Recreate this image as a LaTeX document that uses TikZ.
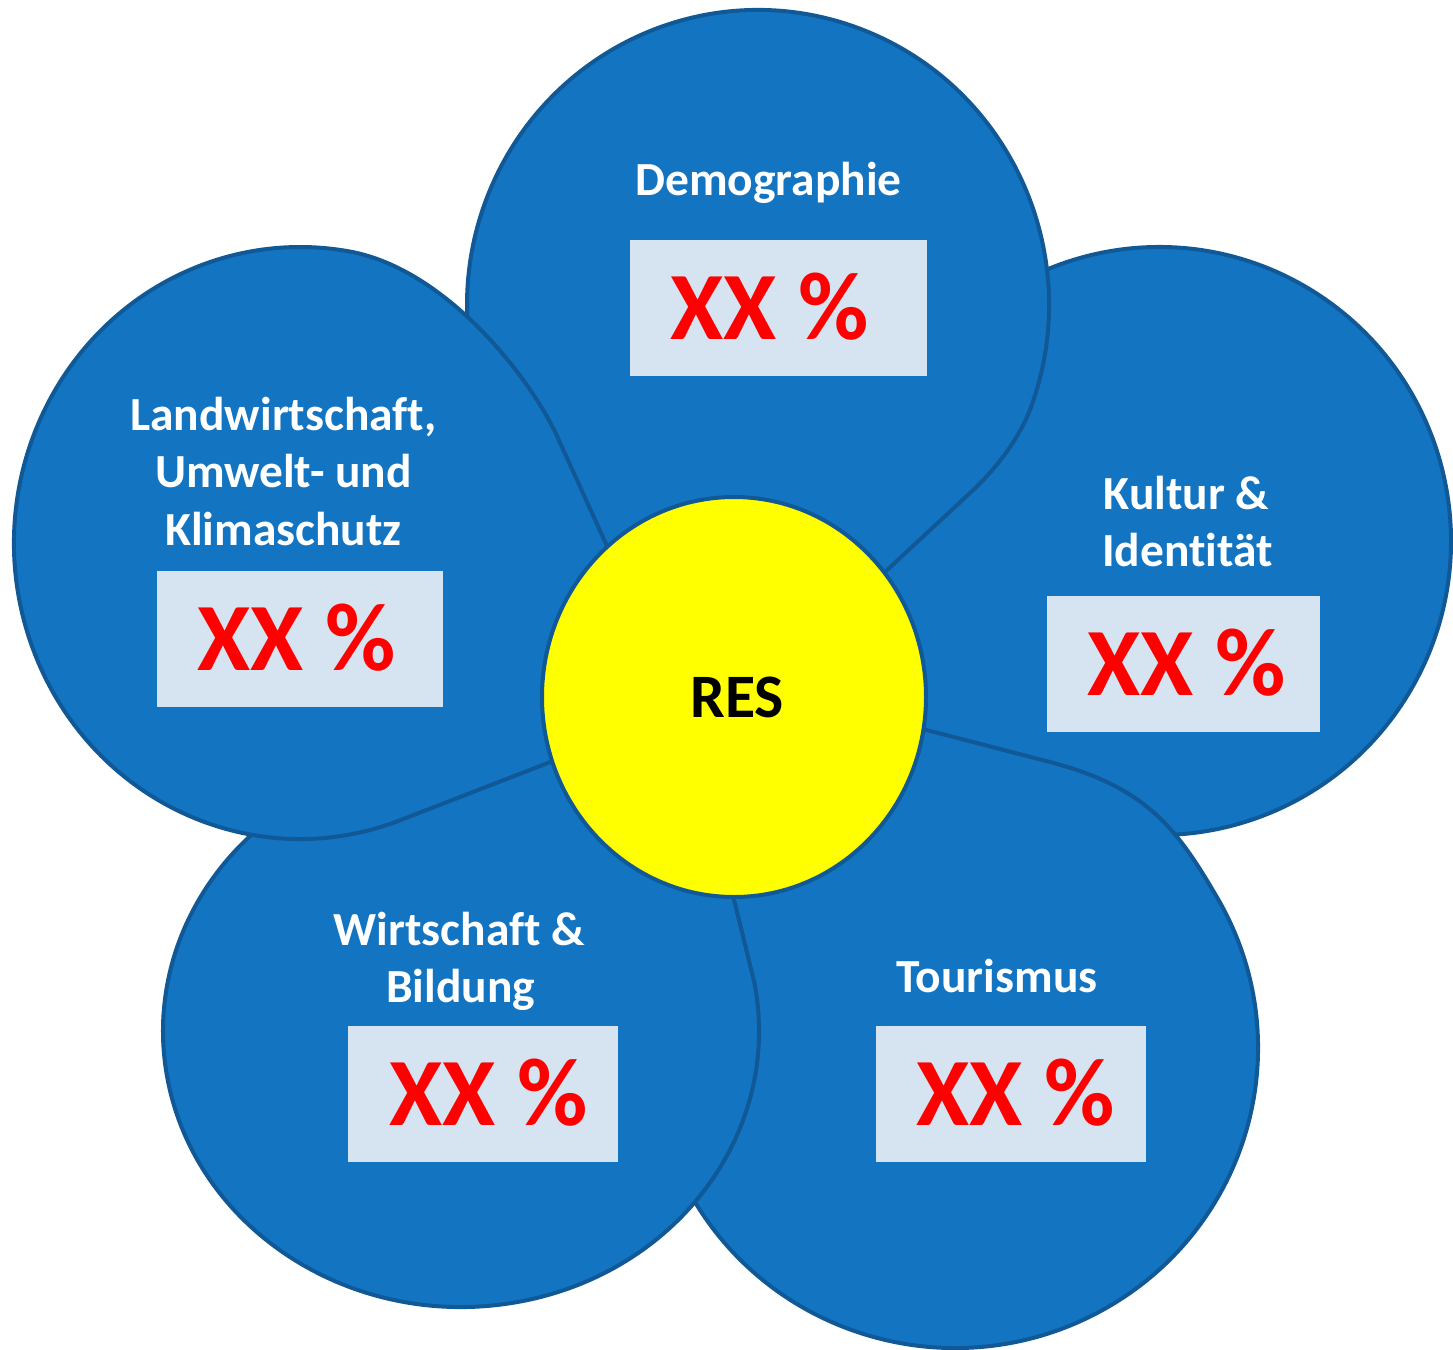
\documentclass[tikz,border=0pt]{standalone}
\usepackage{fontspec}
\setmainfont{Carlito}[Ligatures=NoCommon]
\usetikzlibrary{calc}
\definecolor{petal}{RGB}{19,117,194}
\definecolor{petaledge}{RGB}{16,88,150}
\definecolor{boxfill}{RGB}{214,228,242}
\definecolor{sun}{RGB}{255,255,0}
\definecolor{pct}{RGB}{255,0,0}
\begin{document}
\begin{tikzpicture}[x=0.5pt,y=-0.5pt,
  petalshape/.style={fill=petal, draw=petaledge, line width=2pt, line join=round},
  sunshape/.style={fill=sun, draw=petaledge, line width=2pt},
  valbox/.style={fill=boxfill, draw=none},
  titletext/.style={text=white, font=\fontsize{23.75}{28}\selectfont\bfseries, anchor=base, inner sep=0pt},
  pcttext/.style={text=pct, font=\fontsize{48.25}{56}\selectfont\bfseries, anchor=base, inner sep=0pt},
  restext/.style={text=black, font=\fontsize{30.9}{36}\selectfont\bfseries, anchor=base, inner sep=0pt}]
\useasboundingbox (0,0) rectangle (1453,1350);
\clip (0,0) rectangle (1453,1350);
% centres and tips
\coordinate (CD) at (758,305);
\coordinate (CK) at (1159,541);
\coordinate (CT) at (955,1048);
\coordinate (CW) at (461,1031);
\coordinate (CL) at (300,543);
\coordinate (CS) at (734,697);
\coordinate (TD) at (745,702);
\coordinate (TK) at (734,697);
\coordinate (TT) at (745,683);
\coordinate (TW) at (690,720);
\coordinate (TL) at (682,711);
% Kultur petal
\path[petalshape] (TK) -- ($(CK)+(209.7:292 and 294)$)
  arc[start angle=209.7, end angle=470.1, x radius=292, y radius=294] -- cycle;
% Demographie petal
\path[petalshape] (TD) -- (970,493) .. controls (995.7,469.2) and (1019.7,438.8) .. ($(CD)+(20:291 and 295)$)
  arc[start angle=20, end angle=-223.7, x radius=291, y radius=295] -- cycle;
% Tourismus petal
\path[petalshape] (TT) -- (1050,762) .. controls (1146.8,787.2) and (1177.1,828.9) .. ($(CT)+(-30:303 and 300)$)
  arc[start angle=-30, end angle=195.9, x radius=303, y radius=300] -- cycle;
% Wirtschaft petal
\path[petalshape] (TW) -- ($(CW)+(-10:298 and 276)$)
  arc[start angle=-10, end angle=240, x radius=298, y radius=276]
  -- (400,783) -- cycle;
% Landwirtschaft petal
\path[petalshape] (TL) -- ($(CL)+(69.2:286 and 296)$)
  arc[start angle=69.2, end angle=280, x radius=286, y radius=296]
  .. controls (448,269.5) and (532,381) .. (557,436) -- cycle;
% centre
\path[sunshape] (CS) ellipse[x radius=192, y radius=200];
\node[restext] (res) at (737,717) {RES};
% value boxes
\fill[valbox] (630,240) rectangle (927,376);
\fill[valbox] (157,571) rectangle (443,707);
\fill[valbox] (1047,596) rectangle (1320,732);
\fill[valbox] (348,1026) rectangle (618,1162);
\fill[valbox] (876,1026) rectangle (1146,1162);
% titles
\node[titletext] (tD) at (768.5,195) {Demographie};
\node[titletext] (tL1) at (283.5,430) {Landwirtschaft,};
\node[titletext] (tL2) at (283.5,487.5) {Umwelt- und};
\node[titletext] (tL3) at (283.5,545) {Klimaschutz};
\node[titletext] (tK1) at (1186.5,509) {Kultur \&};
\node[titletext] (tK2) at (1187.5,566) {Identität};
\node[titletext] (tW1) at (459.5,945) {Wirtschaft \&};
\node[titletext] (tW2) at (460.5,1002) {Bildung};
\node[titletext] (tT) at (997,992) {Tourismus};
% values
\node[pcttext] (vD) at (770,339) {XX \%};
\node[pcttext] (vL) at (296.5,670) {XX \%};
\node[pcttext] (vK) at (1187,695) {XX \%};
\node[pcttext] (vW) at (488.5,1125) {XX \%};
\node[pcttext] (vT) at (1016,1125) {XX \%};
\end{tikzpicture}
\end{document}
